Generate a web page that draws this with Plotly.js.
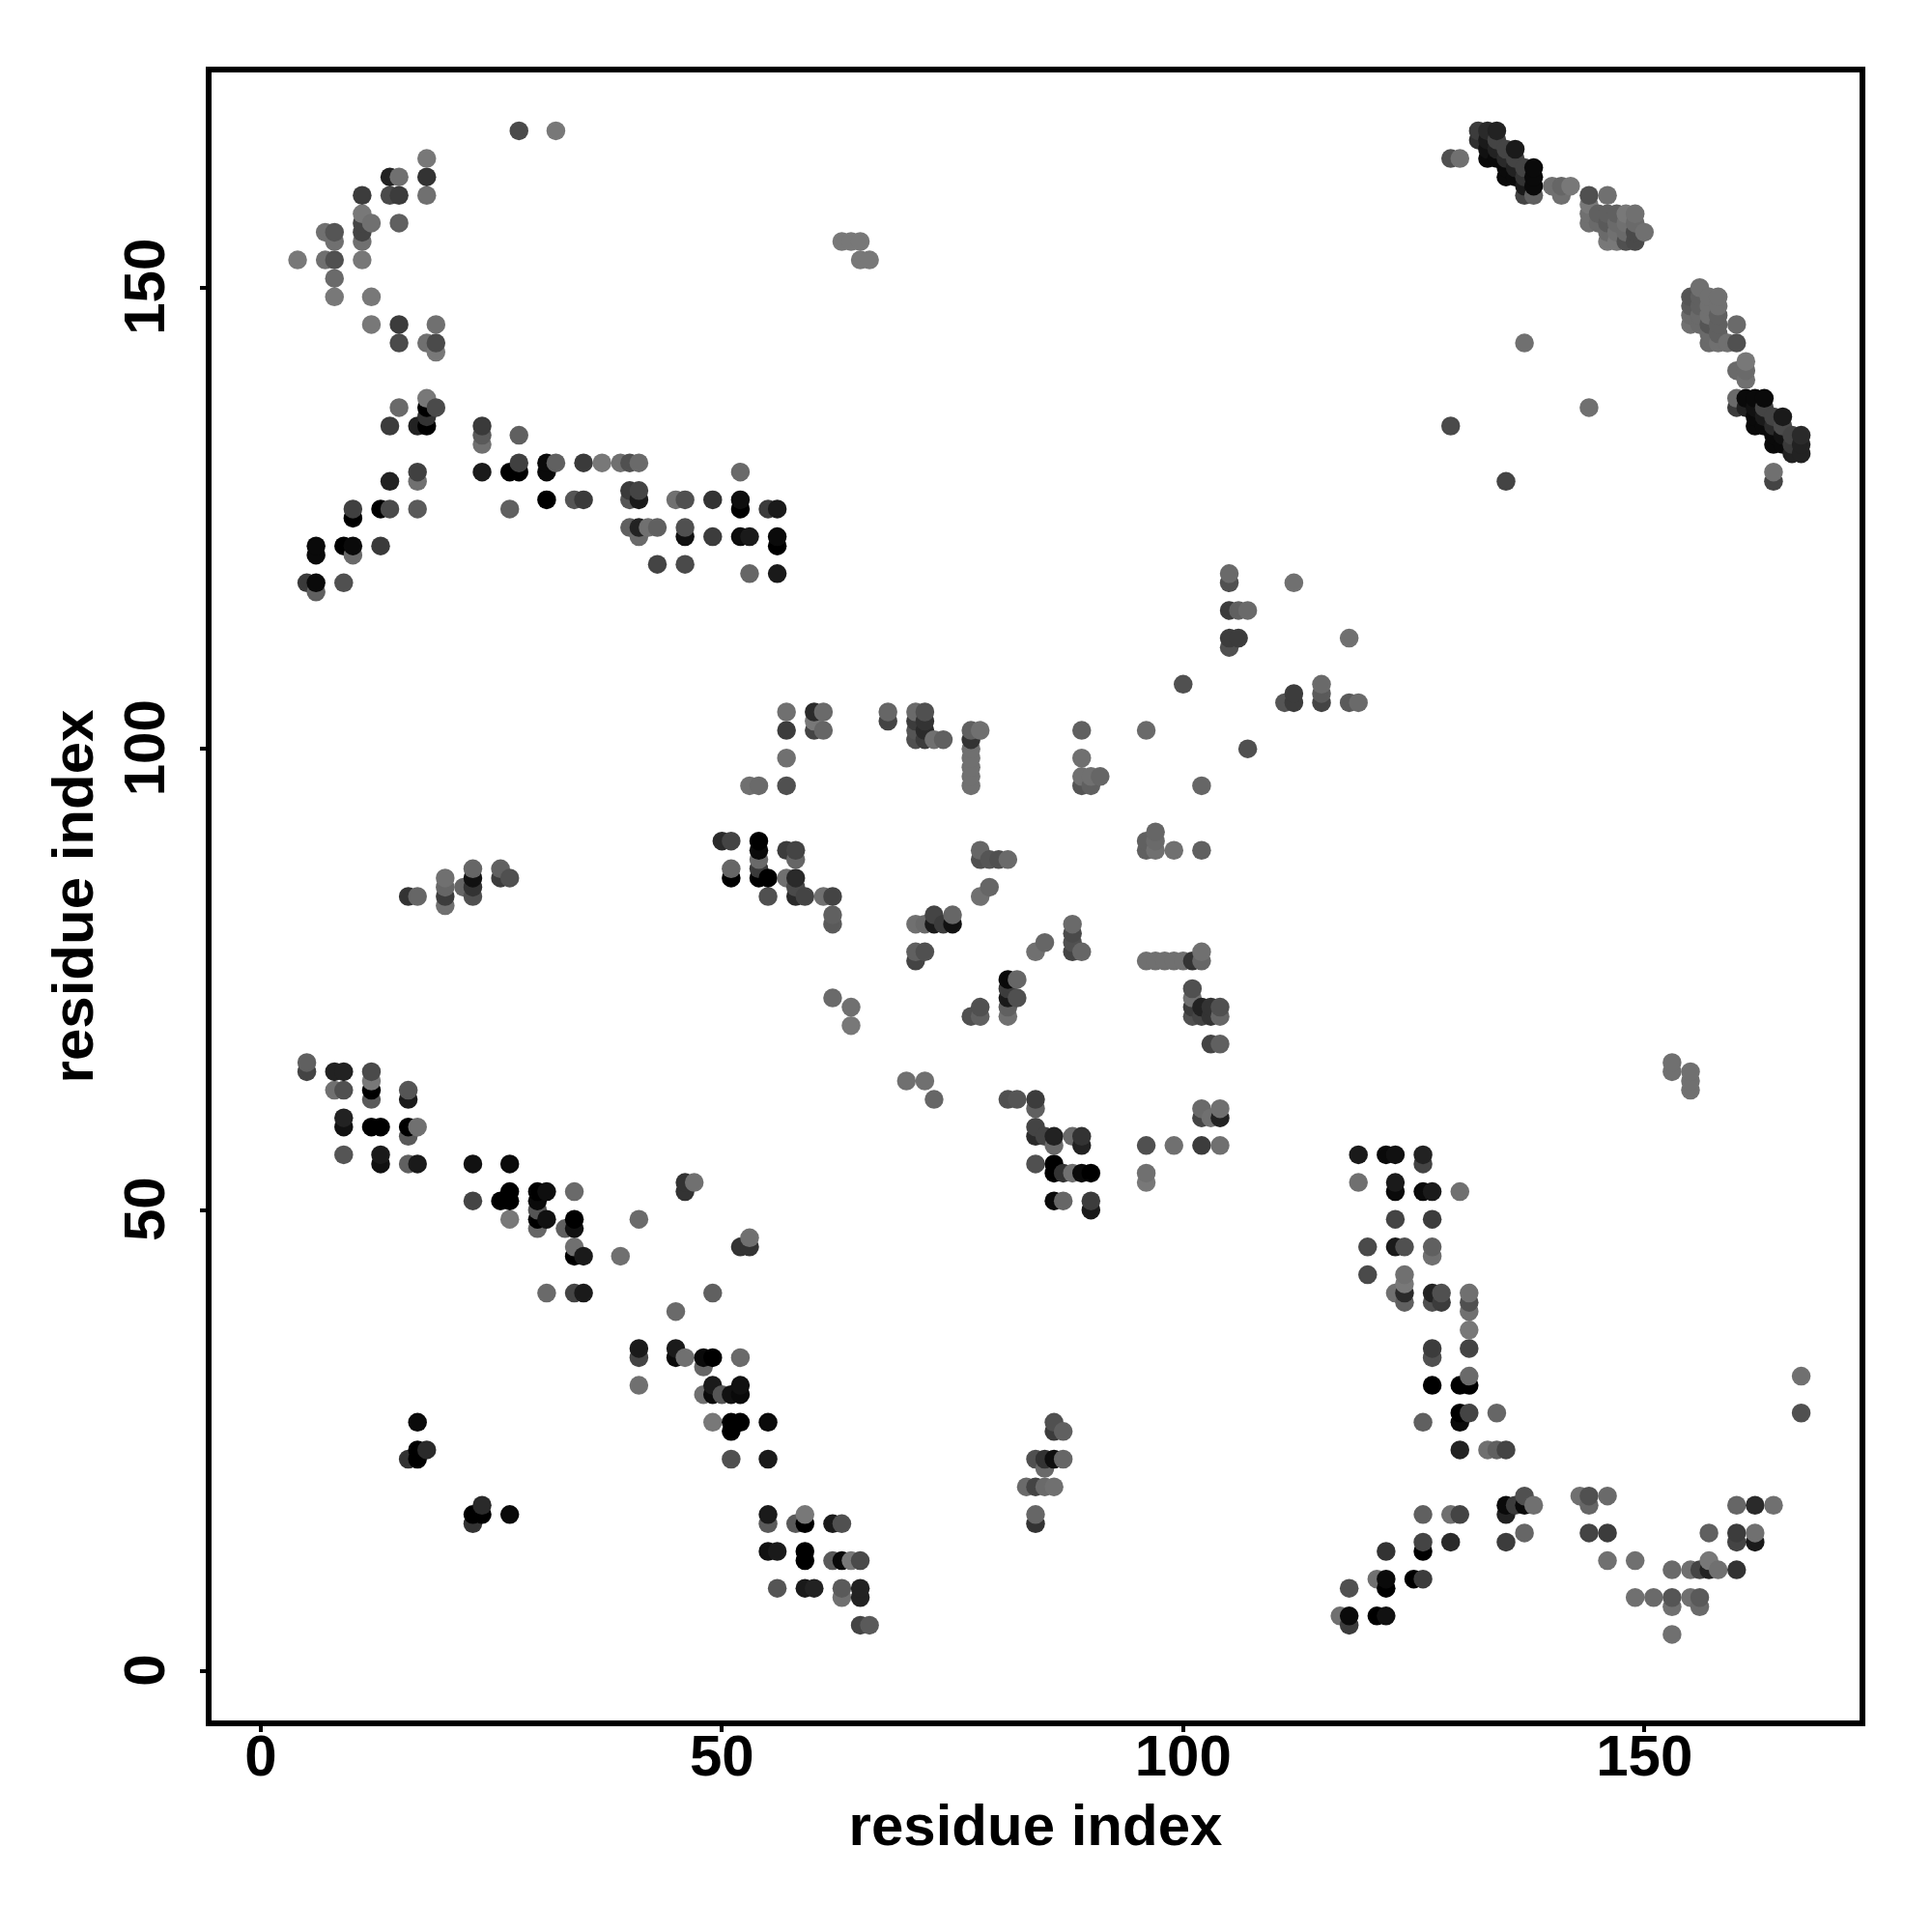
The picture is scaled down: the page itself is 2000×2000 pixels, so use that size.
<!DOCTYPE html>
<html>
<head>
<meta charset="utf-8">
<script src="https://cdn.plot.ly/plotly-3.0.1.min.js"></script>
<style>html,body{margin:0;padding:0;background:#fff}#chart{width:2000px;height:2000px}</style>
</head>
<body>
<div id="chart"></div>
<script>
const axisTitle = "residue index";
const tickValues = [0, 50, 100, 150];

// Each cluster: residue x, residue y, grey shade (0 black .. 120 mid grey)
const upperLeftX = [28,32,18, 14,15,18, 11,14,15,18, 11,12,11,11,11, 15, 7,8,8, 4,7,8,11, 8,8,12, 12,15,19, 15,18,19,19];
const upperLeftY = [167,167,164, 162,162,162, 160,160,160,160, 158,157,157,156,155, 157, 156,156,155, 153,153,153,153, 151,149,149, 146,146,146, 144,144,144,143];
const upperLeftG = [74,120,120, 34,112,51, 60,74,60,112, 120,112,68,68,112, 96, 112,85,112, 120,112,80,120, 106,120,120, 120,60,112, 74,112,74,120];

const armX = [18,18,19,15, 14,17,18,18, 24,24,24, 28, 24,27,28,28, 31,31,32, 35,37,39,40,41, 17,17,14, 52];
const armY = [138,137,137,137, 135,135,135,136, 135,134,133, 134, 130,130,130,131, 131,130,131, 131,131,131,131,131, 130,129,129, 130];
const armG = [120,0,74,106, 60,34,0,51, 58,90,112, 96, 26,0,0,64, 10,10,96, 58,120,112,80,106, 64,112,34, 106];

const armLowX = [31,34,35, 40,41,40,41, 45,46,49, 52,52, 55,56, 10,10, 13,14, 17, 27];
const armLowY = [127,127,127, 128,128,127,127, 127,127,127, 127,126, 126,126, 126,125, 126,126, 126, 126];
const armLowG = [0,85,58, 58,68,85,26, 112,80,51, 14,0, 60,26, 64,0, 0,74, 90, 96];

const armBaseX = [40,41,42,43,41, 46,46, 49, 52,53, 56,56, 6,6, 9,10,10, 13, 43,46, 53,56, 5,6,6,9];
const armBaseY = [124,124,124,124,123, 124,123, 123, 123,123, 123,122, 122,121, 122,122,121, 122, 120,120, 119,119, 118,118,117,118];
const armBaseG = [96,34,112,96,106, 80,17, 60, 12,26, 10,0, 10,10, 0,10,106, 58, 68,74, 102,26, 58,10,96,80];

const topDiagX = [129,130, 132,133,134, 132,133,134, 133,134,135,136, 133,134,135,136, 135,136,137,138, 135,136,137,138, 137,138, 137,138];
const topDiagY = [164,164, 167,167,167, 166,166,166, 165,165,165,165, 164,164,164,164, 163,163,163,163, 162,162,162,162, 161,161, 160,160];
const topDiagG = [80,112, 60,42,34, 48,26,68, 17,34,68,26, 10,10,42,68, 10,34,68,10, 10,10,51,10, 26,10, 68,96];

const midDiagX = [140,141,142,141, 144,146, 144,144,144, 145,145, 146,146,146,146, 147,147,147,147, 148,148,148,148, 149,149,149,149, 150];
const midDiagY = [161,161,161,160, 160,160, 159,158,157, 158,157, 158,157,156,155, 158,157,156,155, 158,157,156,155, 158,157,156,155, 156];
const midDiagG = [112,102,120,112, 80,112, 120,112,112, 96,106, 96,90,106,120, 96,106,112,120, 120,112,106,80, 112,106,74,74, 112];

const lowDiagX = [156, 155,155,155,155, 156,156,156,156, 157,157,157,157,157,157, 158,158,158,158,158,158, 159, 160,160, 160,161,161,161];
const lowDiagY = [150, 149,148,147,146, 149,148,147,146, 149,148,147,146,145,144, 149,148,147,146,145,144, 144, 146,144, 141,142,141,140];
const lowDiagG = [112, 85,90,106,112, 96,96,106,106, 112,112,112,85,106,106, 112,112,96,96,96,112, 112, 106,80, 106,120,106,112];

const endDiagX = [160,160,161,162,163,161,162,163, 162,163,164,165, 162,163,164,165, 164,165,166,167, 164,165,166,167, 166,167, 164,164];
const endDiagY = [138,137,138,138,138,137,137,137, 136,136,136,136, 135,135,135,135, 134,134,134,134, 133,133,133,133, 132,132, 130,129];
const endDiagG = [106,60,10,10,10,34,17,68, 10,26,68,26, 10,10,42,74, 10,17,68,42, 10,10,58,34, 34,34, 112,68];

const strayX = [137,144,129,135, 63,64,65,65,66, 153,153,155,155,155, 167,167];
const strayY = [144,137,135,129, 155,155,155,153,153, 66,65,65,64,63, 32,28];
const strayG = [112,112,74,68, 120,120,120,120,120, 112,112,112,112,112, 112,80];

const lowerLeftX = [5,5, 8,9, 12,12,12,12, 8,9, 16,16, 9,9, 12,13, 16,17,16, 9,13,13, 16,17, 23,27];
const lowerLeftY = [66,65, 65,65, 65,64,63,62, 63,63, 63,62, 60,59, 59,59, 59,59,58, 56,56,55, 55,55, 55,55];
const lowerLeftG = [96,68, 34,34, 74,120,0,90, 112,80, 85,26, 34,17, 0,0, 0,112,90, 85,26,17, 96,26, 17,10];

const lowerMidX = [23,26,27,27, 30,31,34, 30,30,30,31,30, 27, 33,34,34, 34,34,35, 41, 39, 31,34,35, 46,47,46, 52,53,53, 49,45];
const lowerMidY = [51,51,51,52, 52,52,52, 51,50,49,49,48, 49, 48,49,48, 46,45,45, 49, 45, 41,41,41, 53,53,52, 46,46,47, 41,39];
const lowerMidG = [68,0,0,0, 0,14,106, 10,85,0,17,102, 120, 96,0,17, 112,0,26, 106, 112, 106,68,26, 51,112,51, 51,51,112, 96,106];

const lowerStrandX = [41,41,45,45,46, 48,49,48,52, 41, 49,48,49,50,51,52,52, 49,51,52,51,55, 51,55];
const lowerStrandY = [35,34,35,34,34, 34,34,33,34, 31, 31,30,30,30,30,30,31, 27,27,27,26,27, 23,23];
const lowerStrandG = [26,68,26,10,112, 10,0,102,106, 112, 26,112,10,85,17,10,17, 120,0,0,0,10, 80,26];

const leftIslandX = [17,17,18,16,17, 24,23,24,23,27];
const leftIslandY = [27,24,24,23,23, 18,17,17,16,17];
const leftIslandG = [10,0,42,51,0, 42,0,0,51,10];

const bottomStrandX = [55,55, 58,59,59, 62,63, 55,56, 59,59, 62,63,64,65, 56,59,60, 63,63,65,65, 65,66];
const bottomStrandY = [17,16, 16,17,16, 16,16, 13,13, 13,12, 12,12,12,12, 9,9,9, 9,8,9,8, 5,5];
const bottomStrandG = [26,90, 90,120,0, 26,80, 17,26, 0,0, 90,10,120,74, 85,26,34, 90,112,34,34, 68,90];

const shortRowX = [16,17, 20,20,20,20, 22, 23,23,23,23, 26,26,27];
const shortRowY = [84,84, 86,85,84,83, 85, 87,86,85,84, 87,86,86];
const shortRowG = [51,102, 112,102,60,112, 102, 102,17,51,80, 96,60,80];

const centreTopX = [57,57,57,57, 53,54, 60,61,60,60,61, 68,68];
const centreTopY = [104,102,99,96, 96,96, 104,104,103,102,102, 104,103];
const centreTopG = [112,60,112,80, 112,106, 42,106,120,68,102, 102,68];

const centreTopRightX = [71,72,71,72,71,72,71,72,73,74, 77,77,77,77,77,77,77,78];
const centreTopRightY = [104,104,103,103,102,102,101,101,101,101, 102,101,100,99,98,97,96,102];
const centreTopRightG = [106,80,60,51,85,42,80,60,112,96, 96,51,112,112,112,112,112,112];

const helixX = [50,51, 54,54,54,54,54,55, 51,51, 57,58,58, 57,58,58,58,59, 55, 61,62, 62,62];
const helixY = [90,90, 90,89,88,87,86,86, 87,86, 89,89,88, 86,86,85,84,84, 84, 84,84, 82,81];
const helixG = [42,68, 0,10,106,58,0,0, 102,0, 60,68,102, 112,42,74,42,68, 80, 112,68, 96,90];

const helixRightX = [71,72,73,73,74,75,75, 71,72,71, 62,64,64];
const helixRightY = [81,81,82,81,81,82,81, 78,78,77, 73,72,70];
const helixRightG = [112,106,68,26,60,102,17, 96,80,68, 106,112,120];

const upperRiseX = [105,105,112, 105,106,107, 105,106,105, 118, 100, 111,112,112, 115,115,115, 118,119];
const upperRiseY = [119,118,118, 115,115,115, 112,112,111, 112, 107, 105,106,105, 107,106,105, 105,105];
const upperRiseG = [106,80,112, 60,96,106, 60,60,80, 112, 80, 85,60,60, 106,90,68, 90,106];

const centreColX = [89,89, 89,90,91,89,90, 96,107,102];
const centreColY = [102,99, 97,97,97,96,96, 102,100,96];
const centreColG = [96,112, 112,112,102,85,96, 106,80,102];

const centreMidX = [97,96,97,96,97,99,102, 78,78,79,80,81, 79,78];
const centreMidY = [91,90,90,89,89,89,89, 89,88,88,88,88, 85,84];
const centreMidG = [102,96,106,96,112,112,96, 102,80,85,80,106, 102,112];

const ringX = [88,88,88,88,89, 85,84, 96,97,98,99,100,101,102,102];
const ringY = [81,80,79,78,78, 79,78, 77,77,77,77,77,77,77,78];
const ringG = [106,74,80,68,102, 102,112, 112,112,112,112,112,51,102,112];

const ringLowX = [101,101,101,101,102,103,104,102,103,104, 103,104, 81,82,81,81,82,81,81, 78,77,78];
const ringLowY = [74,73,72,71,72,72,72,71,71,71, 68,68, 75,75,74,73,73,72,71, 72,71,71];
const ringLowG = [80,112,60,80,34,51,80,68,51,102, 68,96, 10,102,60,26,80,96,112, 80,80,96];

const gapRowX = [70,72,73, 81,82,84,84];
const gapRowY = [64,64,62, 62,62,62,61];
const gapRowG = [112,112,102, 80,85,60,96];

const pocketX = [84,84,85,86,86, 88,89,89, 84,86,86,87,88,89,90, 86,87,90,90];
const pocketY = [59,58,58,58,57, 58,58,57, 55,55,54,54,54,54,54, 51,51,51,50];
const pocketG = [68,42,68,34,106, 106,51,34, 80,0,0,51,112,10,0, 10,102,60,26];

const pocketRightX = [96,99,96,96, 102,102,103,104,104, 102,104];
const pocketRightY = [57,57,54,53, 61,60,60,61,60, 57,57];
const pocketRightG = [80,112,112,120, 106,68,112,112,34, 60,112];

const bottomIslandX = [86,86,87, 84,85,86,87,85, 83,84,85,86, 84,84];
const bottomIslandY = [27,26,26, 23,23,23,23,22, 20,20,20,20, 17,16];
const bottomIslandG = [80,60,96, 80,51,14,102,106, 106,68,106,112, 102,51];

const rightStrandX = [119,122,123,126,126, 119,123,123,126,127,130, 123,127, 120,123,124,127,127];
const rightStrandY = [56,56,56,56,55, 53,53,52,52,52,52, 49,49, 46,46,46,46,45];
const rightStrandG = [26,10,17,34,68, 112,26,10,10,26,112, 68,60, 74,26,80,96,112];

const rightStrandLowX = [120,124,124,123,124,124, 127,128,127,128, 131,131,131,131,131, 127,127];
const rightStrandLowY = [43,43,42,41,41,40, 41,41,40,40, 41,40,39,37,35, 35,34];
const rightStrandLowG = [74,112,120,112,42,96, 34,80,80,60, 112,80,112,120,68, 60,80];

const rightFootX = [127,130,131,131, 130,131,130,134,126, 130,133,134,135];
const rightFootY = [31,31,31,32, 28,28,27,28,27, 24,24,24,24];
const rightFootG = [0,0,0,106, 0,68,10,102,96, 34,112,96,68];

const basinLeftX = [135,136,137,137,138,135, 137,135, 143,144,144,146, 144,146];
const basinLeftY = [18,18,18,19,18,17, 15,14, 19,19,18,19, 15,15];
const basinLeftG = [10,60,10,80,112,34, 102,60, 112,80,102,106, 68,60];

const risingX = [126,129,130, 126,126,129, 122, 121,122,122,125,126, 118, 117,118,118,121,122];
const risingY = [17,17,17, 14,13,14, 13, 10,10,9,10,10, 9, 6,6,5,6,6];
const risingG = [96,112,68, 68,0,42, 51, 112,10,0,0,60, 80, 112,10,60,0,17];

const basinRightX = [146,149, 153,155,156,157,157,158,160, 157,160,160,162,162, 160,162,164];
const basinRightY = [12,12, 11,11,11,11,12,11,11, 15,15,14,15,14, 18,18,18];
const basinRightG = [112,112, 106,112,68,34,120,112,51, 96,60,68,112,26, 102,42,112];

const basinFloorX = [149,151,153,153,155,156,156,153];
const basinFloorY = [8,8,8,7,8,8,7,4];
const basinFloorG = [112,106,85,112,112,90,106,112];

const xParts = [upperLeftX,armX,armLowX,armBaseX,topDiagX,midDiagX,lowDiagX,endDiagX,strayX,lowerLeftX,lowerMidX,lowerStrandX,leftIslandX,bottomStrandX,shortRowX,centreTopX,centreTopRightX,helixX,helixRightX,upperRiseX,centreColX,centreMidX,ringX,ringLowX,gapRowX,pocketX,pocketRightX,bottomIslandX,rightStrandX,rightStrandLowX,rightFootX,basinLeftX,risingX,basinRightX,basinFloorX];
const yParts = [upperLeftY,armY,armLowY,armBaseY,topDiagY,midDiagY,lowDiagY,endDiagY,strayY,lowerLeftY,lowerMidY,lowerStrandY,leftIslandY,bottomStrandY,shortRowY,centreTopY,centreTopRightY,helixY,helixRightY,upperRiseY,centreColY,centreMidY,ringY,ringLowY,gapRowY,pocketY,pocketRightY,bottomIslandY,rightStrandY,rightStrandLowY,rightFootY,basinLeftY,risingY,basinRightY,basinFloorY];
const gParts = [upperLeftG,armG,armLowG,armBaseG,topDiagG,midDiagG,lowDiagG,endDiagG,strayG,lowerLeftG,lowerMidG,lowerStrandG,leftIslandG,bottomStrandG,shortRowG,centreTopG,centreTopRightG,helixG,helixRightG,upperRiseG,centreColG,centreMidG,ringG,ringLowG,gapRowG,pocketG,pocketRightG,bottomIslandG,rightStrandG,rightStrandLowG,rightFootG,basinLeftG,risingG,basinRightG,basinFloorG];

const allX = xParts.flat(), allY = yParts.flat(), allG = gParts.flat();
// Later residues sit on top of earlier ones, as in the source plot.
const order = allX.map((_, i) => i).sort((a, b) => allX[a] - allX[b] || allY[a] - allY[b]);

const font = "'Liberation Sans', Arial, sans-serif";
const tickFont = {family: font, size: 60, color: "#000", weight: 700};
const titleFont = {family: font, size: 60, color: "#000", weight: 700};
const axisBase = {
  tickmode: "array", tickvals: tickValues, ticktext: tickValues.map(String),
  showgrid: false, zeroline: false, showline: true, mirror: true,
  linecolor: "#000", linewidth: 6, ticks: "outside", ticklen: 6, tickwidth: 4, tickcolor: "#000",
  tickfont: tickFont, range: [-5.326, 173.326], autorange: false
};

Plotly.newPlot("chart", [{
  type: "scatter", mode: "markers",
  x: order.map(i => allX[i]),
  y: order.map(i => allY[i]),
  marker: {size: 19.5, color: order.map(i => `rgb(${allG[i]},${allG[i]},${allG[i]})`), line: {width: 0}},
  hoverinfo: "x+y"
}], {
  width: 2000, height: 2000,
  margin: {l: 219, r: 75, t: 75, b: 219, pad: 0},
  paper_bgcolor: "#fff", plot_bgcolor: "#fff",
  showlegend: false,
  xaxis: Object.assign({}, axisBase, {title: {text: axisTitle, font: titleFont, standoff: 20}, ticklabelstandoff: -27}),
  yaxis: Object.assign({}, axisBase, {tickangle: -90, title: {text: axisTitle, font: titleFont, standoff: 2}, ticklabelstandoff: 13, ticklabelshift: 8})
}, {displayModeBar: false, staticPlot: true});
</script>
</body>
</html>
